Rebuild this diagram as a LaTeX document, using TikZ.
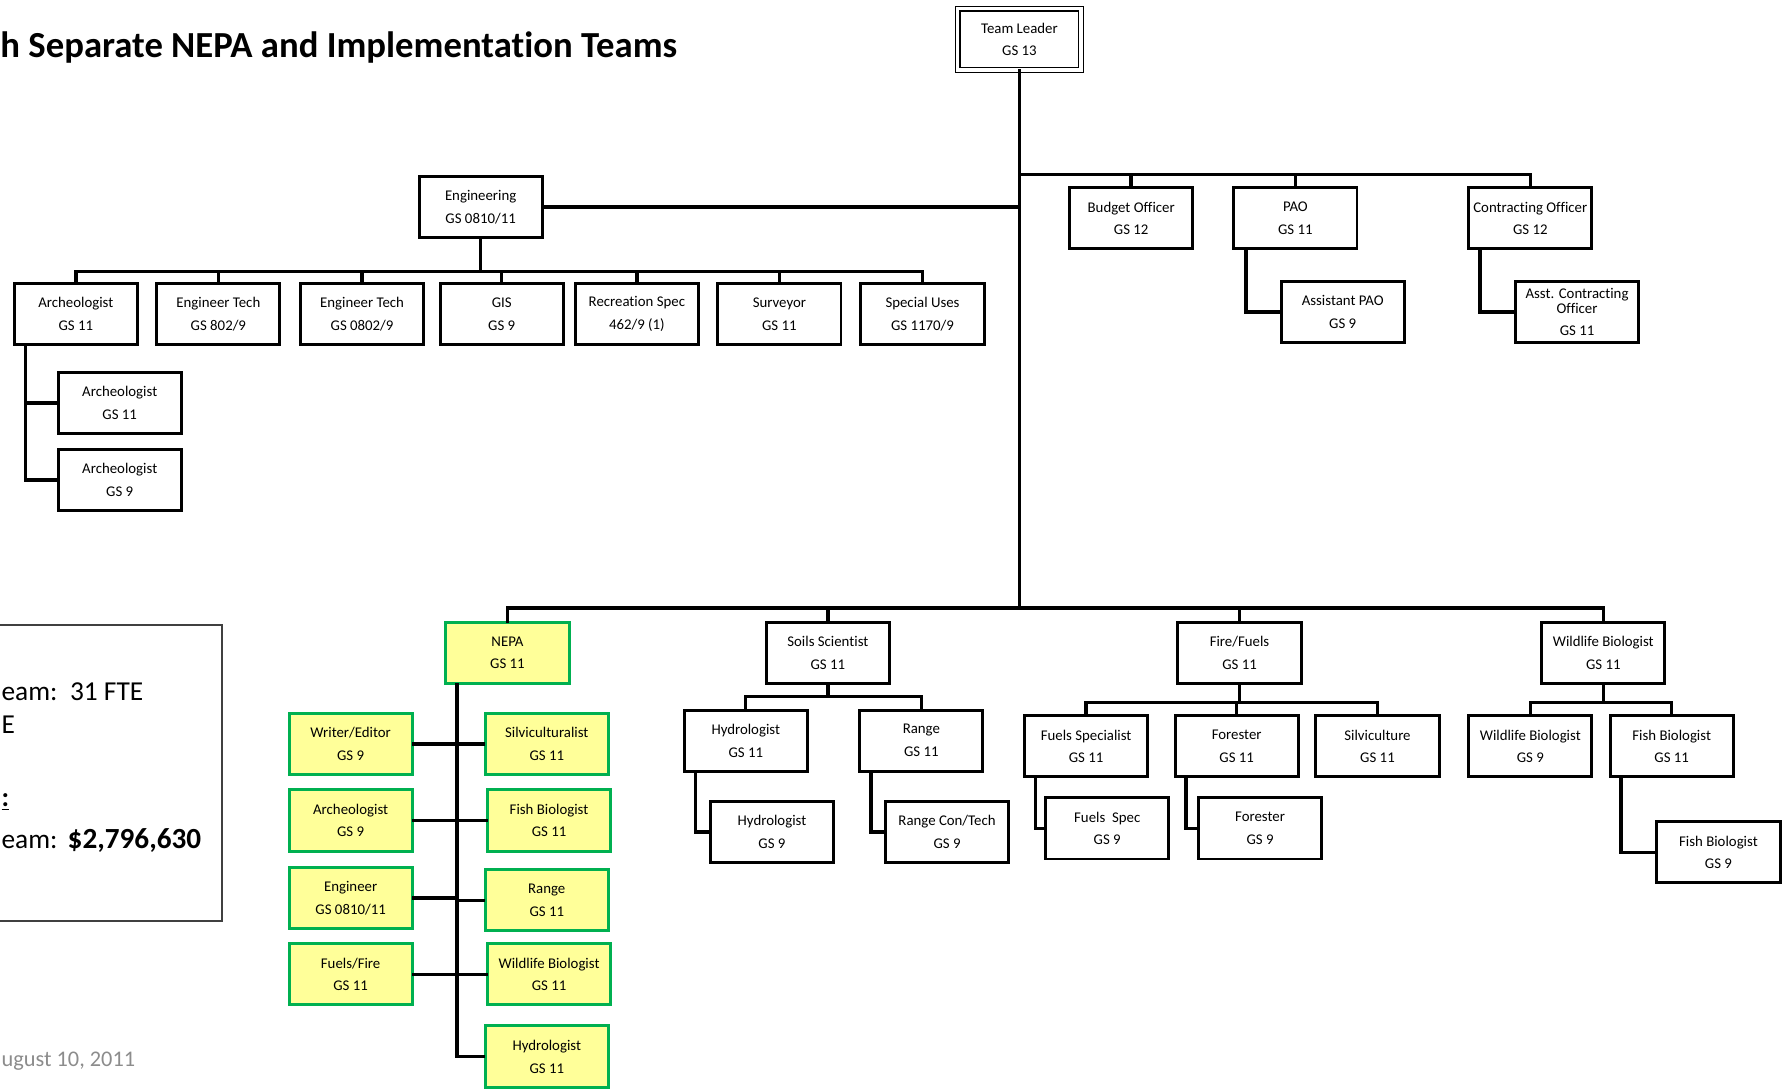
\documentclass[tikz,border=0pt]{standalone}
\usepackage{fontspec}
\setmainfont{Carlito}[Ligatures=NoCommon]
\usetikzlibrary{calc}
\definecolor{nepagreen}{HTML}{00B050}
\definecolor{nepayellow}{HTML}{FFFF99}
\definecolor{datagray}{HTML}{8C8C8C}
\definecolor{boxgray}{HTML}{404040}
\tikzset{
  bx/.style={draw=black, line width=1.3pt, fill=white, rectangle, inner sep=0pt,
    minimum width=54pt, minimum height=26.8pt, align=center,
    font=\fontsize{6.5}{10}\selectfont},
  gbx/.style={bx, draw=nepagreen, fill=nepayellow},
  conn/.style={line width=1.5pt, line cap=rect},
  infotxt/.style={anchor=base west, inner sep=0pt, font=\fontsize{12}{14}\selectfont},
}
\begin{document}
\begin{tikzpicture}[x=0.5pt,y=-0.5pt]
\useasboundingbox (0,0) rectangle (1568,955);

% title
\node[anchor=base west, inner sep=0pt, font=\fontsize{16.1}{20}\selectfont\bfseries] (title) at (0,50) {h Separate NEPA and Implementation Teams};

% info box
\draw[draw=boxgray, line width=0.9pt] (-5,548) rectangle (195,808);
\node[infotxt] (i1a) at (1,614) {eam:};
\node[infotxt] (i1b) at (61,614) {31 FTE};
\node[infotxt] (i2) at (1,643) {E};
\node[infotxt] (i3) at (1,707) {\underline{\textbf{:}}};
\node[infotxt] (i4a) at (1,744) {eam:};
\node[infotxt, font=\fontsize{12.8}{14}\selectfont] (i4b) at (59,744) {\textbf{\$2,796,630}};
\node[anchor=base west, inner sep=0pt, font=\fontsize{9.8}{12}\selectfont, text=datagray] (date) at (1,935) {ugust 10, 2011};

% top
\node[bx, double, line width=0.6pt, double distance=1.4pt] (tl) at (894,34.5) {Team Leader\\GS 13};
\node[bx] (budget) at (992,191.5) {Budget Officer\\GS 12};
\node[bx] (pao) at (1136,191.5) {PAO\\GS 11};
\node[bx] (co) at (1342,191.5) {Contracting Officer\\GS 12};
\node[bx] (apao) at (1177.5,273.5) {Assistant PAO\\GS 9};
\node[bx, font=\fontsize{6.5}{7}\selectfont] (aco) at (1383,273.5) {Asst. Contracting\\Officer\\[2.6pt]GS 11};

% engineering
\node[bx] (eng) at (421.5,181.5) {Engineering\\GS 0810/11};
\node[bx] (arch) at (66.5,275.5) {Archeologist\\GS 11};
\node[bx] (et1) at (191.5,275.5) {Engineer Tech\\GS 802/9};
\node[bx] (et2) at (317.5,275.5) {Engineer Tech\\GS 0802/9};
\node[bx] (gis) at (440,275.5) {GIS\\GS 9};
\node[bx] (rec) at (558.5,275.5) {Recreation Spec\\462/9 (1)};
\node[bx] (surv) at (683.5,275.5) {Surveyor\\GS 11};
\node[bx] (spec) at (809,275.5) {Special Uses\\GS 1170/9};
\node[bx] (arch2) at (105,353.5) {Archeologist\\GS 11};
\node[bx] (arch3) at (105,421) {Archeologist\\GS 9};

% bottom row
\node[gbx] (nepa) at (445,572.5) {NEPA\\GS 11};
\node[bx] (soils) at (726,572.5) {Soils Scientist\\GS 11};
\node[bx] (fire) at (1087,572.5) {Fire/Fuels\\GS 11};
\node[bx] (wild) at (1406,572.5) {Wildlife Biologist\\GS 11};

% NEPA team
\node[gbx] (writer) at (307.5,652.5) {Writer/Editor\\GS 9};
\node[gbx] (archn) at (307.5,719.5) {Archeologist\\GS 9};
\node[gbx] (engn) at (307.5,787.5) {Engineer\\GS 0810/11};
\node[gbx] (fuelsn) at (307.5,854.5) {Fuels/Fire\\GS 11};
\node[gbx] (silv) at (479.5,652.5) {Silviculturalist\\GS 11};
\node[gbx] (fishn) at (481.5,719.5) {Fish Biologist\\GS 11};
\node[gbx] (rangen) at (479.5,789.5) {Range\\GS 11};
\node[gbx] (wildn) at (481.5,854.5) {Wildlife Biologist\\GS 11};
\node[gbx] (hydron) at (479.5,926.5) {Hydrologist\\GS 11};

% soils team
\node[bx] (hydro1) at (654,649.5) {Hydrologist\\GS 11};
\node[bx] (range1) at (808,649.5) {Range\\GS 11};
\node[bx] (hydro2) at (677,729.5) {Hydrologist\\GS 9};
\node[bx] (rangect) at (830.5,729.5) {Range Con/Tech\\GS 9};

% fire team
\node[bx] (fuelsp) at (952.5,654.5) {Fuels Specialist\\GS 11};
\node[bx] (forester) at (1084.5,654.5) {Forester\\GS 11};
\node[bx] (silvic) at (1208,654.5) {Silviculture\\GS 11};
\node[bx] (fuelspec) at (971,726.5) {Fuels\ \ Spec\\GS 9};
\node[bx] (forester2) at (1105,726.5) {Forester\\GS 9};

% wildlife team
\node[bx] (wb9) at (1342,654.5) {Wildlife Biologist\\GS 9};
\node[bx] (fb11) at (1466,654.5) {Fish Biologist\\GS 11};
\node[bx] (fb9) at (1507,747.5) {Fish Biologist\\GS 9};

% ---- connectors ----
\coordinate (j) at (894,533);
\coordinate (b1) at (894,153);
\coordinate (eb) at (421.5,238);
\draw[conn] (tl.south) -- (j);
\draw[conn] (b1) -| (co.north);
\draw[conn] (budget.north) -- (budget.north |- b1);
\draw[conn] (pao.north) -- (pao.north |- b1);
\coordinate (pv) at ($(pao.south west)+(12,0)$);
\draw[conn] (pv) |- (apao.west);
\coordinate (cv) at ($(co.south west)+(11,0)$);
\draw[conn] (cv) |- (aco.west);

\draw[conn] (eng.east) -- (eng.east -| tl.south);
\draw[conn] (eng.south) -- (eb);
\draw[conn] (arch.north) |- (eb) -| (spec.north);
\foreach \n in {et1,et2,gis,rec,surv} \draw[conn] (\n.north) -- (\n.north |- eb);
\coordinate (av) at ($(arch.south west)+(11,0)$);
\draw[conn] (av) |- (arch3.west);
\draw[conn] (arch2.west) -- (arch2.west -| av);

\draw[conn] (nepa.north) |- (j) -| (wild.north);
\draw[conn] (soils.north) -- (soils.north |- j);
\draw[conn] (fire.north) -- (fire.north |- j);

\coordinate (nv) at ($(nepa.south west)+(11,0)$);
\draw[conn] (nv) |- (hydron.west);
\foreach \n in {writer,archn,engn,fuelsn} \draw[conn] (\n.east) -- (\n.east -| nv);
\foreach \n in {silv,fishn,rangen,wildn} \draw[conn] (\n.west) -- (\n.west -| nv);

\coordinate (sb) at (726,611);
\draw[conn] (soils.south) -- (sb);
\draw[conn] (hydro1.north) |- (sb) -| (range1.north);
\draw[conn] ($(hydro1.south west)+(11,0)$) |- (hydro2.west);
\draw[conn] ($(range1.south west)+(11,0)$) |- (rangect.west);

\coordinate (fb) at (1087,616);
\draw[conn] (fire.south) -- (fb);
\draw[conn] (fuelsp.north) |- (fb) -| (silvic.north);
\draw[conn] (forester.north) -- (forester.north |- fb);
\draw[conn] ($(fuelsp.south west)+(11,0)$) |- (fuelspec.west);
\draw[conn] ($(forester.south west)+(11,0)$) |- (forester2.west);

\coordinate (wb) at (1406,616);
\draw[conn] (wild.south) -- (wb);
\draw[conn] (wb9.north) |- (wb) -| (fb11.north);
\draw[conn] ($(fb11.south west)+(11,0)$) |- (fb9.west);
\end{tikzpicture}
\end{document}
